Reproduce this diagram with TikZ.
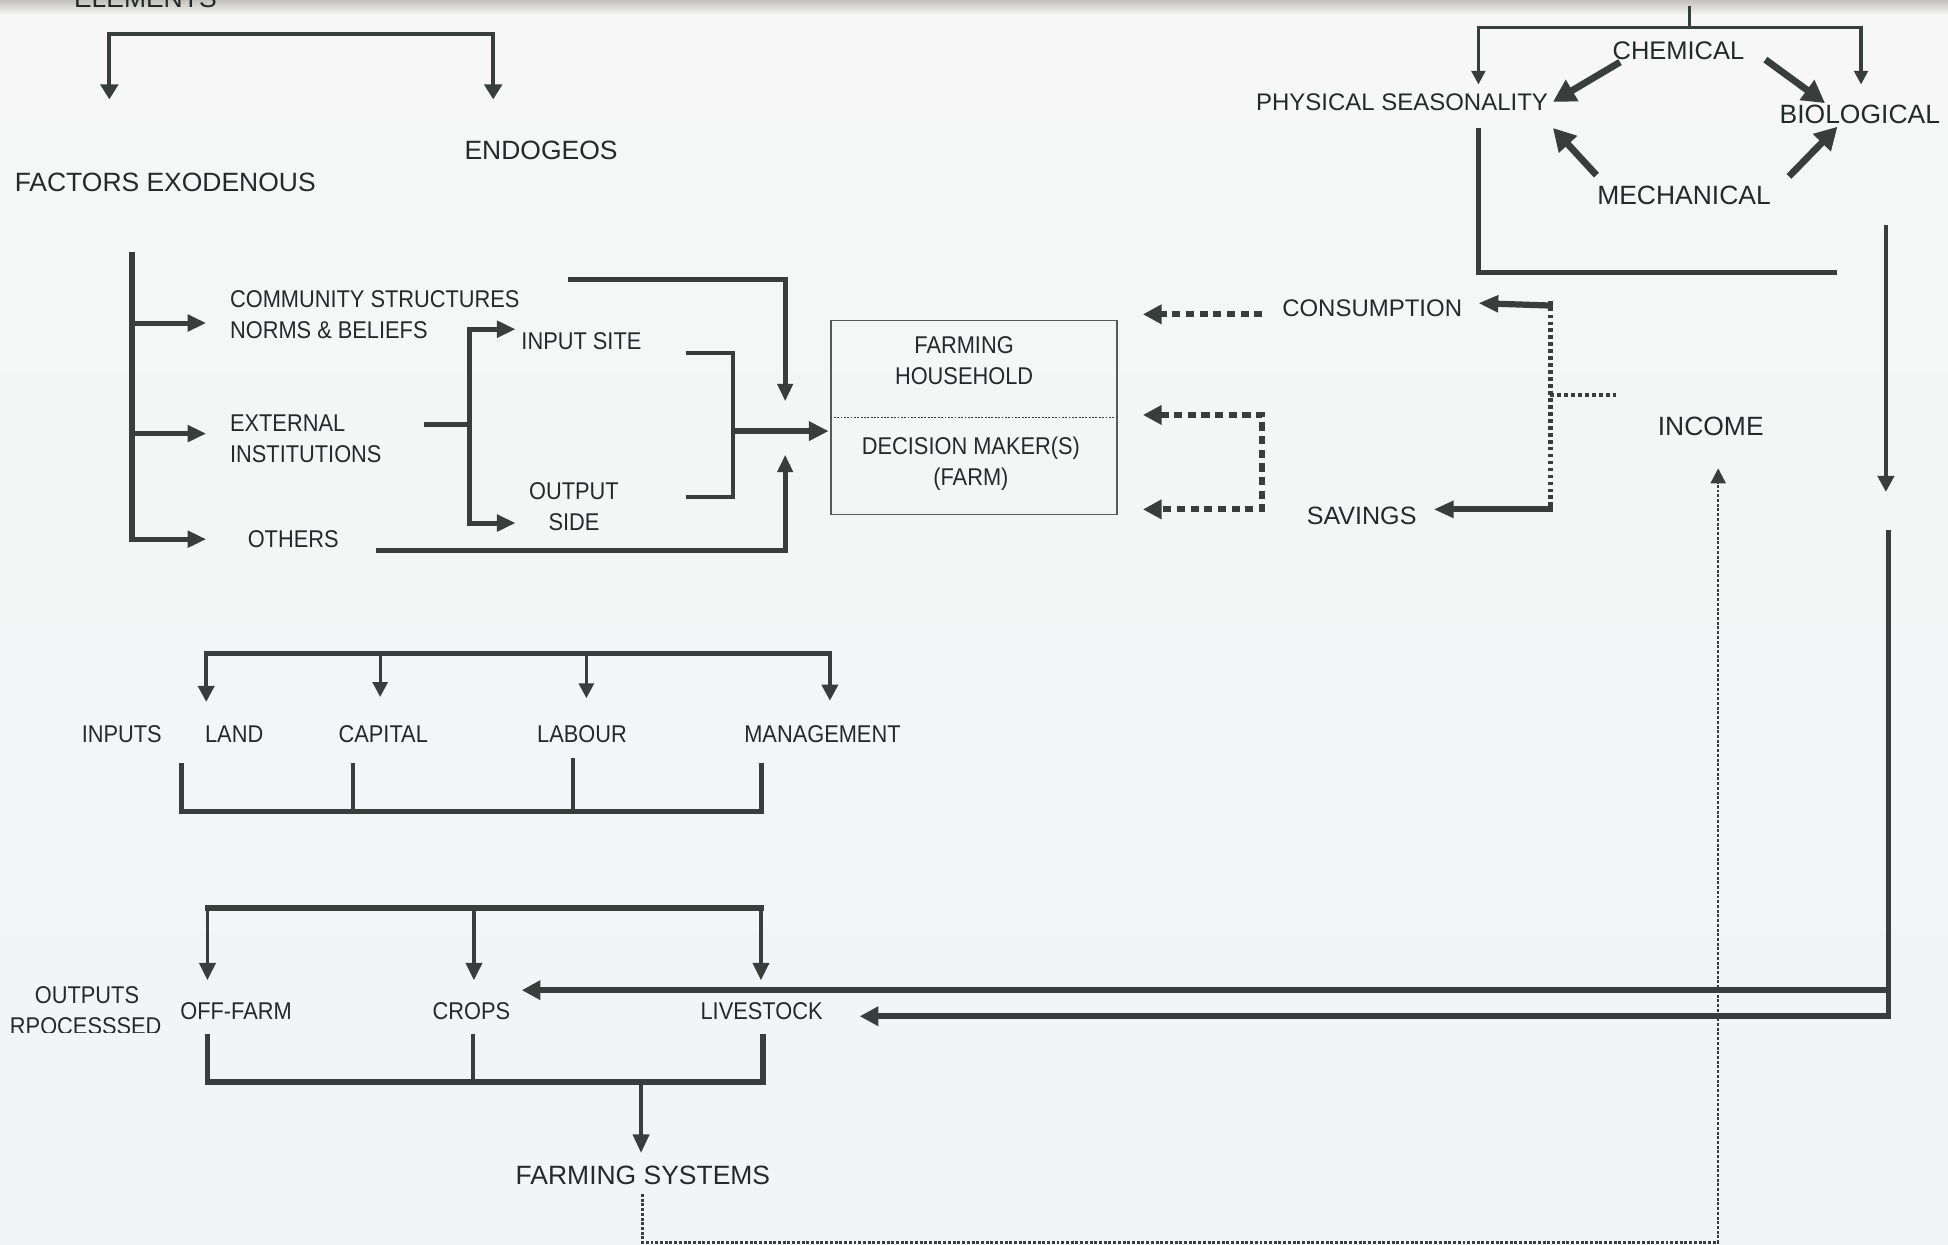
\documentclass[tikz,border=0pt]{standalone}
\usepackage{fontspec}
\setmainfont{Liberation Sans}
\newfontfamily\cnd{Liberation Sans}[FakeStretch=0.9]
\usetikzlibrary{arrows.meta,calc}
\definecolor{bg}{RGB}{246,247,246}
\definecolor{bgb}{RGB}{241,245,247}
\definecolor{lc}{RGB}{56,62,60}
\definecolor{tc}{RGB}{36,41,41}
\definecolor{shd}{RGB}{196,194,190}
\begin{document}
\begin{tikzpicture}[x=1pt,y=-1pt,
  big/.style={font=\fontsize{21.3}{25}\selectfont, text=tc, inner sep=0pt},
  sml/.style={font=\cnd\fontsize{19.5}{25}\selectfont, text=tc, inner sep=0pt},
  ln/.style={draw=lc, line width=4pt},
  thn/.style={draw=lc, line width=2.6pt},
  tipXL/.style={-{Triangle[length=18pt,width=19pt]}},
  dotH/.style={draw=lc, line width=5pt, dash pattern=on 6.5pt off 4.5pt},
  dotM/.style={draw=lc, line width=3.3pt, dash pattern=on 3pt off 2.6pt},
  dotT/.style={draw=lc, line width=2pt, dash pattern=on 2.4pt off 1.4pt}
]
\useasboundingbox (0,0) rectangle (1568,1002);
\clip (0,0) rectangle (1568,1002);
\shade[top color=bg, bottom color=bgb] (0,0) rectangle (1568,1002);
\shade[top color=shd, bottom color=bg] (0,0) rectangle (1568,12);

% ---------- texts ----------
\node[big, anchor=base] (elem) at (117,6) {ELEMENTS};
\node[big] (fact) at (133,147) {FACTORS EXODENOUS};
\node[big] (endo) at (435.5,121) {ENDOGEOS};
\node[sml, anchor=west, align=left] (comm) at (185,253.5) {COMMUNITY STRUCTURES\\NORMS \& BELIEFS};
\node[sml, anchor=west, align=left] (ext) at (185,353) {EXTERNAL\\INSTITUTIONS};
\node[sml] (oth) at (236,434) {OTHERS};
\node[sml] (insite) at (468,275) {INPUT SITE};
\node[sml, align=center] (outside) at (462,407.5) {OUTPUT\\SIDE};
\node[draw=lc!85, line width=1.1pt, minimum width=230pt, minimum height=156pt, inner sep=0pt] (box) at (784,336) {};
\node[sml, align=center] (farmhh) at (776,290.5) {FARMING\\HOUSEHOLD};
\node[sml, align=center] (dec) at (781.5,373.5) {DECISION MAKER(S)\\(FARM)};
\node[big, font=\fontsize{19.3}{23}\selectfont] (cons) at (1104.5,248) {CONSUMPTION};
\node[big, font=\fontsize{20.2}{23}\selectfont] (sav) at (1096,415) {SAVINGS};
\node[big] (inc) at (1377,343) {INCOME};
\node[big, font=\fontsize{19.3}{23}\selectfont] (phys) at (1128.5,82) {PHYSICAL SEASONALITY};
\node[big, font=\fontsize{20.5}{23}\selectfont] (chem) at (1351,41) {CHEMICAL};
\node[big] (bio) at (1497,92) {BIOLOGICAL};
\node[big] (mech) at (1355.5,157) {MECHANICAL};
\node[sml] (inputs) at (98,591) {INPUTS};
\node[sml] (land) at (188.5,591) {LAND};
\node[sml] (cap) at (308.5,591) {CAPITAL};
\node[sml] (lab) at (468.5,591) {LABOUR};
\node[sml] (man) at (662,591) {MANAGEMENT};
\node[sml] (outputs) at (70,801) {OUTPUTS};
\begin{scope}
  \clip (0,780) rectangle (300,831);
  \node[sml] (proc) at (69,826) {RPOCESSSED};
\end{scope}
\node[sml] (off) at (190,814) {OFF-FARM};
\node[sml] (crops) at (379.5,814) {CROPS};
\node[sml] (live) at (613,814) {LIVESTOCK};
\node[big] (fsys) at (517.5,946) {FARMING SYSTEMS};

% ---------- connectors: top left ----------
\coordinate (e1) at (88,80); \coordinate (e2) at (397,80);
\draw[ln, line width=3.2pt, {Triangle[length=12pt,width=14pt]}-{Triangle[length=12pt,width=14pt]}]
  (e1) -- (88,27) -- (397,27) -- (e2);

% factors tree
\draw[ln, line width=5pt] (106,203) -- (106,436);
\foreach \yy in {260,349,434}{
  \draw[ln, line width=4pt, -{Triangle[length=15pt,width=13pt]}] (104,\yy) -- (166,\yy);
}
\draw[ln] (341,342) -- (378,342);
\coordinate (i1) at (415,265); \coordinate (i2) at (415,421);
\draw[ln, {Triangle[length=15pt,width=13pt]}-{Triangle[length=15pt,width=13pt]}]
  (i1) -- (378,265) -- (378,421) -- (i2);
\draw[ln, line width=3.6pt] (552,284) -- (590,284) -- (590,400) -- (552,400);
\coordinate (bx) at (667,347);
\draw[ln, line width=4.6pt, -{Triangle[length=16pt,width=15pt]}] (590,347) -- (bx);
\coordinate (bt) at (632,323);
\draw[ln, -{Triangle[length=14pt,width=12pt]}] (457,225) -- (632,225) -- (bt);
\coordinate (bb) at (632,366);
\draw[ln, -{Triangle[length=14pt,width=12pt]}] (303,443) -- (632,443) -- (bb);
\draw[lc, line width=1.3pt, dash pattern=on 1.5pt off 1.2pt] (box.west) -- (box.east);

% consumption / savings to box
\coordinate (d1) at (920,253); \coordinate (d2) at (920,334); \coordinate (d3) at (920,410);
\draw[dotH, -{Triangle[length=15pt,width=15pt]}] (1016,253) -- (d1);
\draw[dotH, {Triangle[length=15pt,width=15pt]}-{Triangle[length=15pt,width=15pt]}]
  (d2) -- (1016,334) -- (1016,410) -- (d3);

% income split
\draw[dotM] (1248,242) -- (1248,411);
\draw[dotM] (1248,318) -- (1301,318);
\coordinate (ce) at (1190,244);
\coordinate (se) at (1154,410);
\draw[ln, line width=5pt, -{Triangle[length=16pt,width=13pt]}] (1250,246) -- (ce);
\draw[ln, line width=5pt, -{Triangle[length=16pt,width=13pt]}] (1250,410) -- (se);

% farming systems -> income
\coordinate (fs0) at (517,961);
\coordinate (incb) at (1383,377);
\draw[dotT, -{Triangle[length=12pt,width=12pt]}] (fs0) -- (517,1000) -- (1383,1000) -- (incb);

% ---------- right top ----------
\draw[thn] (1360,5) -- (1360,22);
\coordinate (p1) at (1190,68); \coordinate (p2) at (1498,68);
\draw[thn, {Triangle[length=11pt,width=11pt]}-{Triangle[length=11pt,width=11pt]}]
  (p1) -- (1190,22) -- (1498,22) -- (p2);
\draw[ln, line width=5.5pt, tipXL] (1304,50) -- (1250,82);
\draw[ln, line width=5.5pt, tipXL] (1421,48) -- (1469,83);
\draw[ln, line width=5.5pt, tipXL] (1285,141) -- (1250,103);
\draw[ln, line width=5.5pt, tipXL] (1440,142) -- (1479,102);
\draw[ln, line width=4pt] (1190,103) -- (1190,219) -- (1479,219);
\coordinate (rv) at (1518,396);
\draw[ln, line width=3.5pt, -{Triangle[length=13pt,width=13pt]}] (1518,181) -- (rv);

% right vertical down to outputs
\draw[ln, line width=4pt] (1520,427) -- (1520,820);
\coordinate (c1) at (420,797); \coordinate (c2) at (692,818);
\draw[ln, line width=4.6pt, -{Triangle[length=15pt,width=15pt]}] (1522,797) -- (c1);
\draw[ln, line width=4.6pt, -{Triangle[length=15pt,width=15pt]}] (1522,818) -- (c2);

% ---------- inputs ----------
\draw[ln, line width=4.5pt] (164,526) -- (670,526);
\draw[ln, line width=3pt, -{Triangle[length=13pt,width=13pt]}] (166,524) -- (166,565);
\draw[ln, line width=2.6pt, -{Triangle[length=12pt,width=12pt]}] (306,524) -- (306,561);
\draw[ln, line width=2.6pt, -{Triangle[length=12pt,width=12pt]}] (472,524) -- (472,562);
\draw[ln, line width=3pt, -{Triangle[length=13pt,width=13pt]}] (668,524) -- (668,564);
\draw[ln, line width=4pt] (146,614) -- (146,653) -- (613,653) -- (613,614);
\draw[ln, line width=3pt] (284,614) -- (284,653);
\draw[ln, line width=3pt] (461,610) -- (461,653);

% ---------- outputs ----------
\draw[ln, line width=4.5pt] (165,731) -- (615,731);
\draw[ln, line width=3pt, -{Triangle[length=14pt,width=13pt]}] (167,729) -- (167,789);
\draw[ln, line width=3pt, -{Triangle[length=14pt,width=13pt]}] (381.5,729) -- (381.5,789);
\draw[ln, line width=3pt, -{Triangle[length=14pt,width=13pt]}] (612.5,729) -- (612.5,789);
\draw[ln, line width=4.5pt] (167,832) -- (167,871) -- (614,871) -- (614,832);
\draw[ln, line width=3pt] (381,832) -- (381,871);
\coordinate (fsn) at (516,928);
\draw[ln, line width=3pt, -{Triangle[length=15pt,width=13pt]}] (516,871) -- (fsn);
\end{tikzpicture}
\end{document}
